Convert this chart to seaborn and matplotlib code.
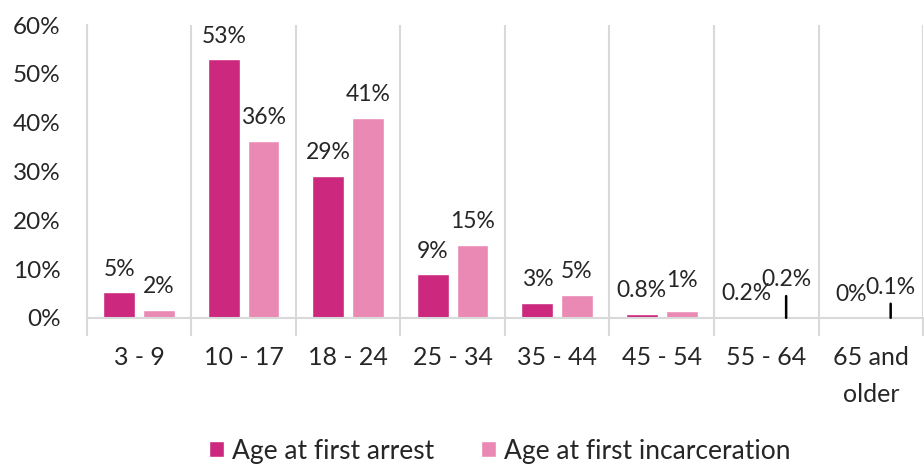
import pandas as pd
import seaborn as sns
import matplotlib.pyplot as plt
from matplotlib.ticker import FixedLocator

# data
age_groups = ["3 - 9", "10 - 17", "18 - 24", "25 - 34", "35 - 44", "45 - 54", "55 - 64", "65 and\nolder"]
series_names = ["Age at first arrest", "Age at first incarceration"]
first_arrest = [5.2, 53.0, 29.1, 8.9, 3.1, 0.8, 0.2, 0.0]
first_incarceration = [1.7, 36.3, 41.0, 15.0, 4.7, 1.3, 0.2, 0.1]
arrest_labels = ["5%", "53%", "29%", "9%", "3%", "0.8%", "0.2%", "0%"]
incarceration_labels = ["2%", "36%", "41%", "15%", "5%", "1%", "0.2%", "0.1%"]
colors = ["#CC287D", "#EA8AB4"]

df = pd.DataFrame({
    "age": age_groups * 2,
    "series": [series_names[0]] * len(age_groups) + [series_names[1]] * len(age_groups),
    "pct": first_arrest + first_incarceration,
})

sns.set_style("white")
plt.rcParams["font.family"] = ["Lato", "DejaVu Sans"]

fig = plt.figure(figsize=(9.24, 4.66), dpi=100)
ax = fig.add_axes([0.094, 0.318, 0.905, 0.628])

sns.barplot(data=df, x="age", y="pct", hue="series", palette=colors,
            width=0.76, gap=0.2, saturation=1, ax=ax, errorbar=None)

ax.set_xlim(-0.5, len(age_groups) - 0.5)
ax.set_ylim(0, 60)
ax.set_yticks(range(0, 61, 10))
ax.set_yticklabels(["{}%".format(v) for v in range(0, 61, 10)])
ax.set_xlabel("")
ax.set_ylabel("")
for t in ax.get_xticklabels():
    t.set_linespacing(1.75)

# category separators
ax.xaxis.set_minor_locator(FixedLocator([i + 0.5 for i in range(-1, len(age_groups))]))
ax.grid(which="minor", axis="x", color="#D9D9D9", lw=1.5)
ax.tick_params(axis="x", which="minor", length=13, width=1.5, color="#D9D9D9", bottom=True)
ax.tick_params(axis="x", which="major", length=0, pad=20, labelsize=18)
ax.tick_params(axis="y", length=0, pad=19, labelsize=17.5)

for s in ["top", "right"]:
    ax.spines[s].set_visible(False)
ax.spines["left"].set_color("#D9D9D9")
ax.spines["bottom"].set_color("#D9D9D9")
ax.spines["left"].set_linewidth(1.5)
ax.spines["bottom"].set_linewidth(1.5)

# value labels
for cont, labels in zip(ax.containers, [arrest_labels, incarceration_labels]):
    for i, (p, lab) in enumerate(zip(cont.patches, labels)):
        x = p.get_x() + p.get_width() / 2
        h = p.get_height()
        if labels is incarceration_labels and i >= 6:
            off = 20 if i == 6 else 14.5
            ax.annotate(lab, xy=(x, 0), xytext=(0, off), textcoords="offset points",
                        ha="center", va="bottom", fontsize=16.5,
                        arrowprops=dict(arrowstyle="-", color="black", lw=1.8,
                                        shrinkA=2, shrinkB=0))
        else:
            dy = 15 if (labels is incarceration_labels and i == 5) else 9
            ax.annotate(lab, xy=(x, h), xytext=(0, dy), textcoords="offset points",
                        ha="center", va="bottom", fontsize=16.5)

sns.move_legend(ax, "center", bbox_to_anchor=(0.541, 0.032),
                bbox_transform=fig.transFigure, ncol=2, frameon=False,
                title=None, fontsize=19, handlelength=0.57, handleheight=0.57,
                handletextpad=0.3, columnspacing=1.78)

fig.savefig("out.png", dpi=100)
